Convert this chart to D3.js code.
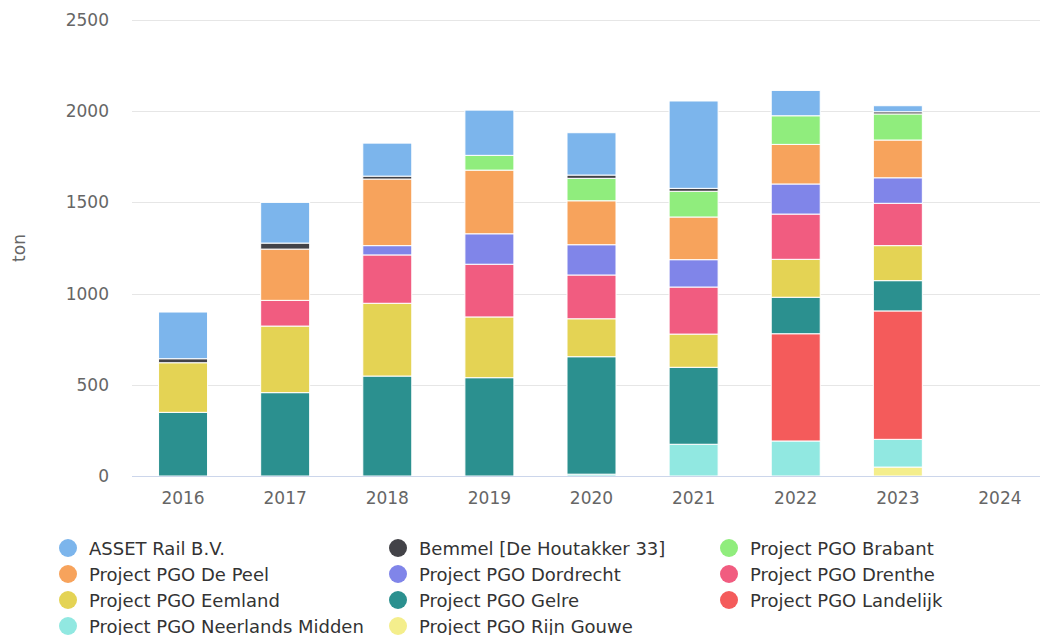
<!DOCTYPE html>
<html>
<head>
<meta charset="utf-8">
<script src="https://cdn.jsdelivr.net/npm/d3@7"></script>
<style>
  body { margin: 0; background: #fff; }
  text { font-family: "DejaVu Sans", sans-serif; }
</style>
</head>
<body>
<div id="chart"></div>
<script>
// categories (years)
var years = ["2016", "2017", "2018", "2019", "2020", "2021", "2022", "2023", "2024"];

// series values, top of stack first
var assetRail      = [256, 223, 181, 248, 232, 479, 139, 33, 0];
var bemmel         = [22, 33, 16, 0, 18, 16, 0, 12, 0];
var pgoBrabant     = [0, 0, 0, 81, 123, 141, 157, 143, 0];
var pgoDePeel      = [0, 281, 365, 349, 241, 234, 217, 207, 0];
var pgoDordrecht   = [0, 0, 51, 167, 166, 150, 165, 140, 0];
var pgoDrenthe     = [0, 141, 265, 289, 240, 258, 248, 232, 0];
var pgoEemland     = [272, 365, 399, 333, 208, 182, 208, 192, 0];
var pgoGelre       = [349, 457, 548, 539, 644, 422, 200, 166, 0];
var pgoLandelijk   = [0, 0, 0, 0, 0, 0, 588, 704, 0];
var pgoNeerlands   = [0, 0, 0, 0, 10, 174, 192, 152, 0];
var pgoRijnGouwe   = [0, 0, 0, 0, 0, 0, 0, 49, 0];

var seriesNames = ["ASSET Rail B.V.", "Bemmel [De Houtakker 33]", "Project PGO Brabant",
  "Project PGO De Peel", "Project PGO Dordrecht", "Project PGO Drenthe",
  "Project PGO Eemland", "Project PGO Gelre", "Project PGO Landelijk",
  "Project PGO Neerlands Midden", "Project PGO Rijn Gouwe"];
var seriesValues = [assetRail, bemmel, pgoBrabant, pgoDePeel, pgoDordrecht, pgoDrenthe,
  pgoEemland, pgoGelre, pgoLandelijk, pgoNeerlands, pgoRijnGouwe];
var seriesColors = ["#7cb5ec", "#434348", "#90ed7d", "#f7a35c", "#8085e9", "#f15c80",
  "#e4d354", "#2b908f", "#f45b5b", "#91e8e1", "#f4ee8c"];

var yTicks = [0, 500, 1000, 1500, 2000, 2500];

var W = 1040, H = 635;
var plotLeft = 132, plotRight = 1051, plotTop = 20, plotBottom = 476;

var svg = d3.select("#chart").append("svg")
  .attr("width", W).attr("height", H);

var x = d3.scaleBand().domain(years).range([plotLeft, plotRight]).padding(0);
var y = d3.scaleLinear().domain([0, 2500]).range([plotBottom, plotTop]);

// grid
svg.append("g").selectAll("line")
  .data(yTicks)
  .enter().append("line")
  .attr("x1", plotLeft).attr("x2", W)
  .attr("y1", function(d) { return Math.round(y(d)) + 0.5; })
  .attr("y2", function(d) { return Math.round(y(d)) + 0.5; })
  .attr("stroke", "#e6e6e6");

// y labels
svg.append("g").selectAll("text")
  .data(yTicks)
  .enter().append("text")
  .attr("x", 109)
  .attr("y", function(d) { return y(d) + 6; })
  .attr("text-anchor", "end")
  .attr("font-size", "17px")
  .attr("fill", "#666666")
  .text(function(d) { return d; });

svg.append("text")
  .attr("transform", "translate(25," + ((plotTop + plotBottom) / 2) + ") rotate(-90)")
  .attr("text-anchor", "middle")
  .attr("font-size", "17px")
  .attr("fill", "#666666")
  .text("ton");

// stacking: last series at the bottom
var table = years.map(function(yr, i) {
  var row = { year: yr };
  seriesNames.forEach(function(n, s) { row[n] = seriesValues[s][i]; });
  return row;
});
var stack = d3.stack().keys(seriesNames.slice().reverse());
var layers = stack(table);

var barW = 49;
svg.append("g").selectAll("g")
  .data(layers)
  .enter().append("g")
  .attr("fill", function(d) { return seriesColors[seriesNames.indexOf(d.key)]; })
  .selectAll("rect")
  .data(function(d) { return d.filter(function(p) { return p[1] - p[0] > 0; }); })
  .enter().append("rect")
  .attr("x", function(d) { return x(d.data.year) + (x.bandwidth() - barW) / 2; })
  .attr("width", barW)
  .attr("y", function(d) { return y(d[1]); })
  .attr("height", function(d) { return y(d[0]) - y(d[1]); })
  .attr("stroke", "#ffffff")
  .attr("stroke-width", 1);

// x axis line
svg.append("line")
  .attr("x1", plotLeft).attr("x2", W)
  .attr("y1", plotBottom + 0.5).attr("y2", plotBottom + 0.5)
  .attr("stroke", "#ccd6eb");

svg.append("g").selectAll("text")
  .data(years)
  .enter().append("text")
  .attr("x", function(d) { return x(d) + x.bandwidth() / 2; })
  .attr("y", 504)
  .attr("text-anchor", "middle")
  .attr("font-size", "17px")
  .attr("fill", "#666666")
  .text(function(d) { return d; });

// legend, 3 columns
var colX = [68, 398, 729];
var legend = svg.append("g").selectAll("g")
  .data(seriesNames)
  .enter().append("g")
  .attr("transform", function(d, i) {
    return "translate(" + colX[i % 3] + "," + (548 + Math.floor(i / 3) * 26) + ")";
  });
legend.append("circle")
  .attr("r", 9)
  .attr("fill", function(d, i) { return seriesColors[i]; });
legend.append("text")
  .attr("x", 21)
  .attr("y", 6.5)
  .attr("font-size", "18px")
  .attr("fill", "#333333")
  .text(function(d) { return d; });
</script>
</body>
</html>
